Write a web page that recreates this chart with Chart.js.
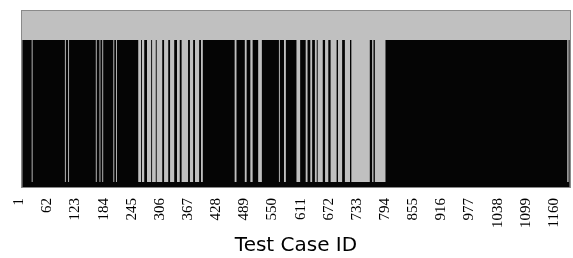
<!DOCTYPE html>
<html>
<head>
<meta charset="utf-8">
<script src="https://cdn.jsdelivr.net/npm/chart.js@4"></script>
<style>
  html, body { margin: 0; padding: 0; background: #fff; }
</style>
</head>
<body>
<canvas id="coverage" width="573" height="258"></canvas>
<script>
// test cases run 1..1188, ticks every 61
var caseCount = 1188;
var tickIds = [1, 62, 123, 184, 245, 306, 367, 428, 489, 550, 611, 672, 733, 794, 855, 916, 977, 1038, 1099, 1160];

// test case ranges that are NOT covered (grey)
var uncovered = [
    [22, 23], [94, 95], [101, 102], [161, 162], [169, 170], [175, 176], [199, 200], [205, 206],
    [253, 258], [261, 265], [272, 280], [283, 290], [293, 304], [309, 317], [322, 330], [337, 342],
    [347, 360], [365, 371], [376, 384], [389, 392],
    [462, 465], [484, 487], [496, 500], [513, 520], [558, 559], [569, 572], [596, 603], [616, 619],
    [626, 629], [636, 639], [642, 652], [658, 664], [670, 682], [686, 694], [701, 711], [715, 754],
    [760, 762], [766, 788], [1183, 1185]
];

// 1 = covered, 0 = not covered, one point per test case
var covered = [];
for (var id = 1; id <= caseCount; id++) {
    var hit = 1;
    uncovered.forEach(function (r) {
        if (id >= r[0] && id <= r[1]) hit = 0;
    });
    covered.push({ x: id, y: hit });
}

// grey plot background + thin frame
var plotFrame = {
    id: 'plotFrame',
    beforeDatasetsDraw: function (chart) {
        var a = chart.chartArea, c = chart.ctx;
        c.save();
        c.fillStyle = '#c0c0c0';
        c.fillRect(a.left, a.top, a.right - a.left, a.bottom - a.top);
        c.restore();
    },
    afterDatasetsDraw: function (chart) {
        var a = chart.chartArea, c = chart.ctx;
        c.save();
        c.strokeStyle = '#8a8a8a';
        c.lineWidth = 1;
        c.strokeRect(a.left - 0.5, a.top - 0.5, a.right - a.left + 1, a.bottom - a.top + 1);
        c.restore();
    }
};

var ctx = document.getElementById('coverage').getContext('2d');
var chart = new Chart(ctx, {
    type: 'line',
    data: {
        datasets: [{
            label: 'Covered',
            data: covered,
            stepped: 'middle',
            fill: 'start',
            backgroundColor: '#050505',
            borderColor: 'transparent',
            borderWidth: 0,
            pointRadius: 0
        }]
    },
    options: {
        responsive: false,
        animation: false,
        layout: { padding: { left: 22, right: 3, top: 11, bottom: 0 } },
        plugins: {
            legend: { display: false },
            tooltip: { enabled: false }
        },
        scales: {
            x: {
                type: 'linear',
                min: 0.5,
                max: caseCount + 0.5,
                afterBuildTicks: function (scale) {
                    scale.ticks = tickIds.map(function (v) { return { value: v }; });
                },
                afterFit: function (scale) {
                    scale.height = 71;
                    scale.paddingLeft = 0;
                    scale.paddingRight = 0;
                },
                grid: { display: false, drawTicks: false },
                border: { display: false },
                ticks: {
                    autoSkip: false,
                    minRotation: 90,
                    maxRotation: 90,
                    padding: 11,
                    labelOffset: -3,
                    color: '#000',
                    font: { family: 'Liberation Serif', size: 15 },
                    callback: function (v) { return String(v); }
                },
                title: {
                    display: true,
                    text: 'Test Case ID',
                    color: '#000',
                    font: { family: 'DejaVu Sans', size: 20 },
                    padding: { top: 0, bottom: 0 }
                }
            },
            y: {
                display: false,
                min: -5 / 142,
                max: 1 + 29 / 142
            }
        }
    },
    plugins: [plotFrame]
});
</script>
</body>
</html>
